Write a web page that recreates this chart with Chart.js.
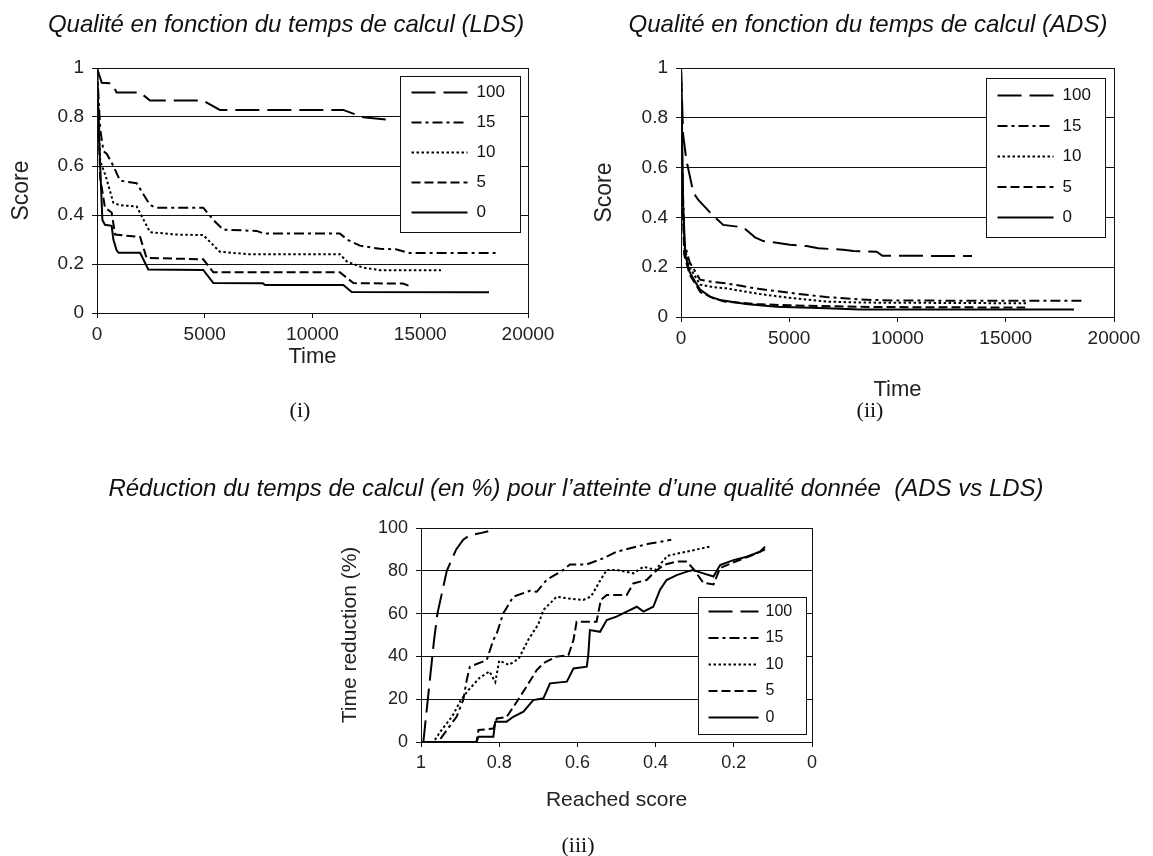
<!DOCTYPE html>
<html>
<head>
<meta charset="utf-8">
<script src="https://cdn.jsdelivr.net/npm/chart.js@4.4.1/dist/chart.umd.min.js"></script>
<style>
  body { margin: 0; width: 1153px; height: 856px; background: #fff; position: relative; overflow: hidden; }
  canvas { position: absolute; }
  .title { position: absolute; transform: translate(-50%, -50%); white-space: pre; color: #111;
           font: italic 24px 'Liberation Sans', Arial, sans-serif; }
  .cap { position: absolute; transform: translate(-50%, -50%); white-space: nowrap; color: #111;
         font: 22px 'Liberation Serif', 'Times New Roman', serif; }
</style>
</head>
<body>
<canvas id="chartLds" width="560" height="420" style="left:0px;top:0px;width:560px;height:420px"></canvas>
<canvas id="chartAds" width="578" height="420" style="left:575px;top:0px;width:578px;height:420px"></canvas>
<canvas id="chartGain" width="520" height="416" style="left:320px;top:440px;width:520px;height:416px"></canvas>

<div class="title" style="left:286px;top:24px">Qualité en fonction du temps de calcul (LDS)</div>
<div class="title" style="left:868px;top:24px">Qualité en fonction du temps de calcul (ADS)</div>
<div class="title" style="left:576px;top:488px">Réduction du temps de calcul (en %) pour l’atteinte d’une qualité donnée  (ADS vs LDS)</div>
<div class="cap" style="left:300px;top:410px">(i)</div>
<div class="cap" style="left:870px;top:410px">(ii)</div>
<div class="cap" style="left:578px;top:845px">(iii)</div>

<script>
// legend order / series names
const seriesLabels = ['100', '15', '10', '5', '0'];

// axis ticks
const timeTicks = [0, 5000, 10000, 15000, 20000];
const scoreTicks = [0, 0.2, 0.4, 0.6, 0.8, 1];
const reachedTicks = [0, 0.2, 0.4, 0.6, 0.8, 1];
const reductionTicks = [0, 20, 40, 60, 80, 100];

// (i) LDS : score vs time
const ldsTime100 = [0, 220, 700, 910, 2000, 2460, 4920, 5700, 11420, 12350, 13400];
const ldsScore100 = [1.0, 0.94, 0.937, 0.90, 0.90, 0.867, 0.867, 0.829, 0.829, 0.799, 0.79];
const ldsTime15 = [0, 150, 300, 450, 760, 1070, 1840, 2460, 2770, 4930, 5400, 5860, 7400, 7720, 11270, 11600, 12200, 13130, 13870, 14500, 18670];
const ldsScore15 = [1.0, 0.75, 0.66, 0.65, 0.60, 0.54, 0.53, 0.44, 0.43, 0.43, 0.38, 0.34, 0.335, 0.325, 0.325, 0.30, 0.275, 0.262, 0.26, 0.245, 0.245];
const ldsTime10 = [0, 150, 400, 760, 1070, 1840, 2460, 3700, 4930, 5700, 7000, 11270, 11600, 12350, 13130, 15960];
const ldsScore10 = [1.0, 0.62, 0.56, 0.45, 0.44, 0.435, 0.33, 0.32, 0.318, 0.25, 0.24, 0.24, 0.21, 0.185, 0.175, 0.175];
const ldsTime5 = [0, 150, 370, 680, 840, 2000, 2300, 4930, 5400, 11270, 11900, 14200, 14510];
const ldsScore5 = [1.0, 0.55, 0.43, 0.41, 0.32, 0.31, 0.225, 0.219, 0.166, 0.166, 0.122, 0.12, 0.11];
const ldsTime0 = [0, 100, 250, 370, 680, 760, 910, 1000, 2000, 2380, 4930, 5400, 7700, 7800, 11430, 11820, 18190];
const ldsScore0 = [1.0, 0.70, 0.38, 0.36, 0.356, 0.30, 0.256, 0.246, 0.246, 0.178, 0.176, 0.122, 0.121, 0.114, 0.114, 0.086, 0.085];

// (ii) ADS : score vs time
const adsTime100 = [0, 100, 250, 570, 800, 1340, 1570, 1950, 2880, 3420, 3800, 4260, 5030, 5800, 6340, 7500, 7960, 9040, 9300, 13440];
const adsScore100 = [1.0, 0.73, 0.63, 0.50, 0.47, 0.42, 0.40, 0.37, 0.36, 0.32, 0.305, 0.30, 0.29, 0.285, 0.276, 0.27, 0.265, 0.262, 0.246, 0.245];
const adsTime15 = [0, 60, 150, 400, 880, 1500, 2100, 3650, 5200, 6700, 8300, 9800, 18600];
const adsScore15 = [1.0, 0.6, 0.3, 0.22, 0.15, 0.14, 0.135, 0.112, 0.095, 0.08, 0.07, 0.066, 0.065];
const adsTime10 = [0, 60, 150, 400, 880, 1500, 2100, 3650, 5200, 6700, 8300, 15980];
const adsScore10 = [1.0, 0.55, 0.28, 0.2, 0.13, 0.12, 0.115, 0.092, 0.075, 0.062, 0.058, 0.055];
const adsTime5 = [0, 60, 150, 400, 900, 1500, 2000, 3500, 5000, 7000, 9000, 15900];
const adsScore5 = [1.0, 0.5, 0.25, 0.17, 0.1, 0.075, 0.062, 0.052, 0.047, 0.043, 0.04, 0.038];
const adsTime0 = [0, 100, 200, 400, 700, 880, 1340, 1800, 3000, 4420, 6730, 8270, 18150];
const adsScore0 = [1.0, 0.45, 0.25, 0.18, 0.135, 0.11, 0.082, 0.068, 0.052, 0.041, 0.035, 0.03, 0.03];

// (iii) time reduction (%) vs reached score
const gainScore100 = [1.0, 0.994, 0.967, 0.958, 0.934, 0.91, 0.892, 0.875, 0.85, 0.828];
const gainPct100 = [0, 0, 47, 60, 80, 90, 94.5, 96.7, 97.5, 98.5];
const gainScore15 = [1.0, 0.956, 0.934, 0.909, 0.892, 0.883, 0.875, 0.832, 0.815, 0.806, 0.79, 0.764, 0.721, 0.704, 0.679, 0.636, 0.619, 0.576, 0.534, 0.5, 0.448, 0.414, 0.39, 0.36];
const gainPct15 = [0, 0, 5.6, 11.8, 19.6, 29, 35.2, 38.3, 47.7, 50.8, 60, 67.9, 70.7, 70.2, 75.7, 80.4, 83, 83, 85.8, 88.9, 91.3, 92.8, 93.5, 94.5];
const gainScore10 = [1.0, 0.968, 0.95, 0.92, 0.9, 0.88, 0.85, 0.825, 0.81, 0.8, 0.775, 0.75, 0.725, 0.70, 0.687, 0.653, 0.62, 0.585, 0.565, 0.54, 0.525, 0.5, 0.457, 0.431, 0.40, 0.37, 0.32, 0.26];
const gainPct10 = [0, 0, 5, 12, 19, 24, 30, 33, 28, 38, 36, 39, 48, 55, 61.7, 67.9, 67, 66.4, 68, 76, 80.4, 80.4, 78.8, 81.9, 80.4, 87, 89, 91.3];
const gainScore5 = [1.0, 0.858, 0.853, 0.815, 0.806, 0.781, 0.755, 0.73, 0.704, 0.687, 0.653, 0.623, 0.61, 0.602, 0.551, 0.54, 0.525, 0.474, 0.457, 0.423, 0.406, 0.38, 0.346, 0.32, 0.304, 0.278, 0.252, 0.235, 0.2, 0.15, 0.12];
const gainPct5 = [0, 0, 5.6, 6.3, 11, 11.7, 18.8, 25.9, 33.6, 36.8, 39.9, 40.5, 47.7, 56.2, 56.2, 66.4, 68.7, 68.7, 74.1, 75.7, 78.8, 82.7, 84.3, 84.3, 81, 74.4, 73.6, 81.3, 84, 87.5, 90];
const gainScore0 = [1.0, 0.858, 0.853, 0.815, 0.81, 0.781, 0.764, 0.738, 0.713, 0.687, 0.67, 0.627, 0.61, 0.576, 0.572, 0.568, 0.542, 0.525, 0.5, 0.474, 0.448, 0.431, 0.406, 0.389, 0.372, 0.346, 0.32, 0.304, 0.278, 0.252, 0.235, 0.201, 0.167, 0.133, 0.12];
const gainPct0 = [0, 0, 2.5, 2.5, 9.5, 9.5, 11.8, 14.2, 19.6, 20.4, 27.4, 28.2, 34.4, 35.2, 41, 52.3, 51.5, 57, 58.6, 60.9, 63.2, 60.9, 63.2, 71, 75.7, 78, 79.6, 80.4, 78.8, 77.3, 82.7, 85, 86.6, 88.9, 91.3];

const family = "'Liberation Sans', Arial, sans-serif";
const ink = '#111';
const dashes = [[24, 8], [10, 4, 3, 4], [2.5, 2.5], [9, 4], []];

function pts(xs, ys) {
    return xs.map((x, i) => ({ x: x, y: ys[i] }));
}

function makeDatasets(groups) {
    return groups.map((g, i) => ({
        label: seriesLabels[i],
        data: pts(g[0], g[1]),
        borderColor: '#000',
        borderWidth: 2,
        borderDash: dashes[i],
        pointRadius: 0,
        fill: false,
        tension: 0
    }));
}

// plot frame + boxed legend inside the plot area
const frameLegend = {
    id: 'frameLegend',
    afterDatasetsDraw(chart, args, opts) {
        const a = chart.chartArea;
        const ctx = chart.ctx;
        ctx.save();
        ctx.strokeStyle = ink;
        ctx.lineWidth = 1;
        ctx.strokeRect(Math.round(a.left) + 0.5, Math.round(a.top) + 0.5,
            Math.round(a.right - a.left), Math.round(a.bottom - a.top));

        const lx = Math.round(a.left + opts.x) + 0.5;
        const ly = Math.round(a.top + opts.y) + 0.5;
        ctx.fillStyle = '#fff';
        ctx.fillRect(lx, ly, opts.w, opts.h);
        ctx.strokeRect(lx, ly, opts.w, opts.h);
        ctx.font = opts.fontSize + 'px ' + family;
        ctx.textBaseline = 'middle';
        chart.data.datasets.forEach((ds, i) => {
            const y = ly + opts.first + i * opts.gap;
            ctx.setLineDash(ds.borderDash);
            ctx.lineWidth = ds.borderWidth;
            ctx.strokeStyle = '#000';
            ctx.beginPath();
            ctx.moveTo(lx + opts.lineFrom, y);
            ctx.lineTo(lx + opts.lineTo, y);
            ctx.stroke();
            ctx.setLineDash([]);
            ctx.fillStyle = ink;
            ctx.fillText(ds.label, lx + opts.textX, y);
        });
        ctx.restore();
    }
};

function axis(cfg) {
    return {
        type: 'linear',
        position: cfg.position,
        reverse: !!cfg.reverse,
        min: cfg.min,
        max: cfg.max,
        afterBuildTicks: a => { a.ticks = cfg.ticks.map(v => ({ value: v })); },
        afterFit: s => {
            if (cfg.position === 'left') s.width = cfg.size;
            else s.height = cfg.size;
        },
        grid: {
            drawOnChartArea: cfg.position === 'left',
            color: ink,
            lineWidth: 1,
            tickLength: 5,
            tickColor: ink
        },
        border: { color: ink, width: 1 },
        ticks: {
            color: '#222',
            font: { family: family, size: cfg.tickSize },
            padding: cfg.tickPad,
            maxRotation: 0,
            callback: v => String(v)
        },
        title: {
            display: true,
            text: cfg.title,
            color: '#222',
            font: { family: family, size: cfg.titleSize },
            padding: cfg.titlePad
        }
    };
}

function drawChart(id, groups, o) {
    const ctx = document.getElementById(id).getContext('2d');
    return new Chart(ctx, {
        type: 'line',
        data: { datasets: makeDatasets(groups) },
        options: {
            responsive: false,
            animation: false,
            layout: { padding: o.padding },
            plugins: {
                legend: { display: false },
                tooltip: { enabled: false },
                frameLegend: o.legend
            },
            scales: { x: o.x, y: o.y }
        },
        plugins: [frameLegend]
    });
}

drawChart('chartLds', [
    [ldsTime100, ldsScore100], [ldsTime15, ldsScore15], [ldsTime10, ldsScore10],
    [ldsTime5, ldsScore5], [ldsTime0, ldsScore0]
], {
    padding: { left: 0, top: 68, right: 32, bottom: 0 },
    x: axis({ position: 'bottom', min: 0, max: 20000, ticks: timeTicks, size: 107, tickSize: 19, tickPad: 5,
              title: 'Time', titleSize: 22, titlePad: { top: 0, bottom: 50 } }),
    y: axis({ position: 'left', min: 0, max: 1, ticks: scoreTicks, size: 97, tickSize: 19, tickPad: 8,
              title: 'Score', titleSize: 23, titlePad: { top: 8, bottom: 0 } }),
    legend: { x: 303, y: 8, w: 120, h: 156, first: 16, gap: 30, lineFrom: 11, lineTo: 67, textX: 76, fontSize: 17 }
});

drawChart('chartAds', [
    [adsTime100, adsScore100], [adsTime15, adsScore15], [adsTime10, adsScore10],
    [adsTime5, adsScore5], [adsTime0, adsScore0]
], {
    padding: { left: 0, top: 68, right: 39, bottom: 0 },
    x: axis({ position: 'bottom', min: 0, max: 20000, ticks: timeTicks, size: 103, tickSize: 19, tickPad: 5,
              title: 'Time', titleSize: 22, titlePad: { top: 0, bottom: 17 } }),
    y: axis({ position: 'left', min: 0, max: 1, ticks: scoreTicks, size: 106, tickSize: 19, tickPad: 8,
              title: 'Score', titleSize: 23, titlePad: { top: 16, bottom: 0 } }),
    legend: { x: 305, y: 10, w: 119, h: 159, first: 17, gap: 30.5, lineFrom: 11, lineTo: 67, textX: 76, fontSize: 17 }
});

drawChart('chartGain', [
    [gainScore100, gainPct100], [gainScore15, gainPct15], [gainScore10, gainPct10],
    [gainScore5, gainPct5], [gainScore0, gainPct0]
], {
    padding: { left: 0, top: 88, right: 28, bottom: 0 },
    x: axis({ position: 'bottom', reverse: true, min: 0, max: 1, ticks: reachedTicks, size: 114, tickSize: 18, tickPad: 5,
              title: 'Reached score', titleSize: 21, titlePad: { top: 0, bottom: 43 } }),
    y: axis({ position: 'left', min: 0, max: 100, ticks: reductionTicks, size: 101, tickSize: 18, tickPad: 8,
              title: 'Time reduction (%)', titleSize: 21, titlePad: { top: 18, bottom: 0 } }),
    legend: { x: 277, y: 69, w: 108, h: 137, first: 14, gap: 26.5, lineFrom: 10, lineTo: 60, textX: 67, fontSize: 16 }
});
</script>
</body>
</html>
